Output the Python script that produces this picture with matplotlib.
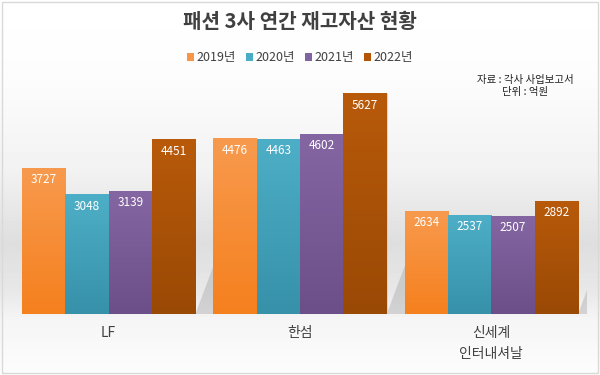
import numpy as np
import matplotlib
matplotlib.use("Agg")
import matplotlib.pyplot as plt
from matplotlib.colors import LinearSegmentedColormap
from matplotlib.patches import Rectangle, Polygon

plt.rcParams['font.family'] = ['Noto Sans CJK KR', 'DejaVu Sans']

categories = ['LF', '한섬', '신세계\n인터내셔날']
series_names = ['2019년', '2020년', '2021년', '2022년']
values = {
    '2019년': [3727, 4476, 2634],
    '2020년': [3048, 4463, 2537],
    '2021년': [3139, 4602, 2507],
    '2022년': [4451, 5627, 2892],
}
title = '패션 3사 연간 재고자산 현황'
note = '자료 : 각사 사업보고서\n단위 : 억원'

top_colors = ['#F89A4E', '#4DAFC7', '#8466A3', '#B85A0A']
bot_colors = ['#F5801E', '#3691A9', '#6C4F88', '#9A4905']
legend_colors = ['#F79646', '#4BACC6', '#8064A2', '#B35505']

fig = plt.figure(figsize=(6, 3.75), dpi=100)

# background gradient
bg = fig.add_axes([0, 0, 1, 1], zorder=-10)
bg.set_axis_off()
ys = np.linspace(0, 1, 375)
stops_y = [0.0, 0.2, 0.45, 0.65, 0.78, 0.85, 1.0]
stops_v = [1.0, 0.99, 0.95, 0.87, 0.91, 0.96, 0.99]
col = np.interp(ys, stops_y, stops_v)
img = np.repeat(col[:, None], 10, axis=1)
bg.imshow(img, cmap='gray', vmin=0, vmax=1, aspect='auto', extent=[0, 1, 1, 0])
bg.set_xlim(0, 1); bg.set_ylim(1, 0)
bg.add_patch(Rectangle((0.003, 0.004), 0.994, 0.99, fill=False, ec='#d9d9d9', lw=1.0))

ax = fig.add_axes([13/600, 1-314/375, 574/600, (314-78.7)/375])
ax.set_xlim(-0.5, 2.5)
ax.set_ylim(0, 6000)
ax.set_axis_off()

w = 0.2267
x = np.arange(len(categories))
for si, name in enumerate(series_names):
    offs = (si - 1.5) * w
    bars = ax.bar(x + offs, values[name], width=w, color=legend_colors[si],
                  edgecolor=(1, 1, 1, 0.6), linewidth=0.6, zorder=3, label=name)
    cmap = LinearSegmentedColormap.from_list('g%d' % si, [bot_colors[si], top_colors[si]])
    for b, v in zip(bars, values[name]):
        x0 = b.get_x(); x1 = x0 + b.get_width()
        grad = np.linspace(1, 0, 100)[:, None]
        im = ax.imshow(grad, cmap=cmap, aspect='auto', extent=[x0, x1, 0, v],
                       zorder=3.5, interpolation='bilinear')
        im.set_clip_path(b)
        ax.text(x0 + b.get_width()/2, v - 300, f'{v}', ha='center', va='center',
                color='white', fontsize=8.5, zorder=5)

# subtle shadows behind groups
for i in range(len(categories)):
    xr = i + 2 * w
    poly = Polygon([[xr, 0], [xr + 0.1, 1300], [xr + 0.1, 1300], [xr + 0.1, 0]], closed=True,
                   fc=(0.6, 0.6, 0.6, 0.35), ec='none', zorder=2)
    ax.add_patch(poly)

ax.set_xlim(-0.5, 2.5)
ax.set_ylim(0, 6000)

# category labels
for i, c in enumerate(categories):
    ax.text(i, -300, c, ha='center', va='top', fontsize=10, color='#404040',
            linespacing=1.7)

fig.text(0.5, 1-22/375, title, ha='center', va='center', fontsize=14.5,
         fontweight='bold', color='#404040')

handles = [Rectangle((0, 0), 1, 1, fc=c, ec='none') for c in legend_colors]
fig.legend(handles, series_names, loc='center', bbox_to_anchor=(0.5, 1-58/375),
           ncol=4, frameon=False, fontsize=9, handlelength=0.55, handleheight=0.55,
           handletextpad=0.2, columnspacing=0.8, labelcolor='#404040')

fig.text(525/600, 1-86/375, note, ha='center', va='center', fontsize=7.5,
         color='#222222', linespacing=1.3)

fig.savefig('out.png', dpi=100)
